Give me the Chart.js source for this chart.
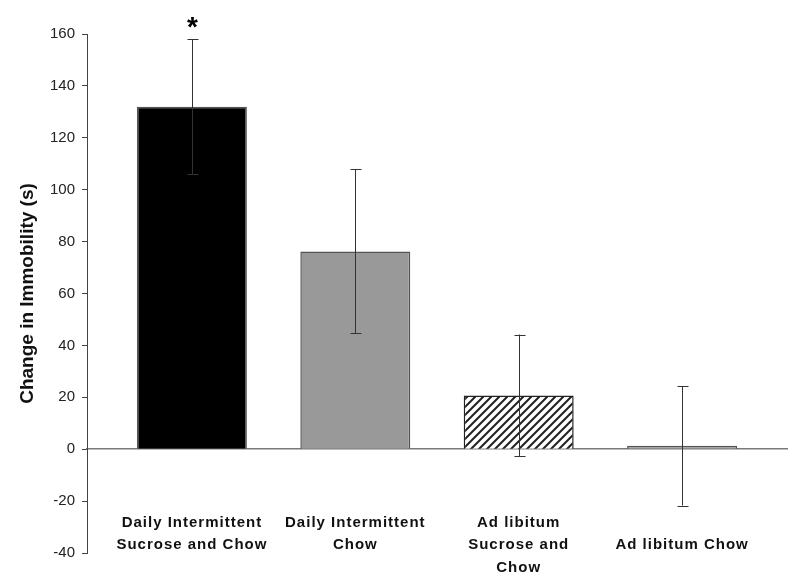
<!DOCTYPE html>
<html>
<head>
<meta charset="utf-8">
<script src="https://cdn.jsdelivr.net/npm/chart.js@4/dist/chart.umd.min.js"></script>
<style>
  html, body { margin: 0; padding: 0; background: #fff; }
  #wrap { width: 800px; height: 580px; }
</style>
</head>
<body>
<div id="wrap"><canvas id="immobilityChart"></canvas></div>
<script>
// values
const categories = [
    ['Daily Intermittent', 'Sucrose and Chow'],
    ['Daily Intermittent', 'Chow'],
    ['Ad libitum', 'Sucrose and', 'Chow'],
    ['', 'Ad libitum Chow']
]
const means = [132, 76.2, 20.7, 1.3]
const errors = [26, 31.6, 23.5, 23]
const marks = ['*', '', '', '']
const yMin = -40
const yMax = 160
const yStep = 20

// diagonal hatch for the third bar
function hatch() {
    let c = document.createElement('canvas')
    c.width = 8
    c.height = 8
    let g = c.getContext('2d')
    g.fillStyle = '#fff'
    g.fillRect(0, 0, 8, 8)
    g.strokeStyle = '#222'
    g.lineWidth = 2
    g.beginPath()
    g.moveTo(-2, 10); g.lineTo(10, -2)
    g.moveTo(-2, 2); g.lineTo(2, -2)
    g.moveTo(6, 10); g.lineTo(10, 6)
    g.stroke()
    return g.createPattern(c, 'repeat')
}

const errorBars = {
    id: 'errorBars',
    afterDatasetsDraw(chart) {
        let ctx = chart.ctx
        let y = chart.scales.y
        let bars = chart.getDatasetMeta(0).data
        ctx.save()
        ctx.strokeStyle = '#333'
        ctx.lineWidth = 1
        bars.forEach((bar, i) => {
            let top = y.getPixelForValue(means[i] + errors[i])
            let bot = y.getPixelForValue(means[i] - errors[i])
            let x = Math.round(bar.x) + 0.5
            ctx.beginPath()
            ctx.moveTo(x, top); ctx.lineTo(x, bot)
            ctx.moveTo(x - 5, Math.round(top) + 0.5); ctx.lineTo(x + 6, Math.round(top) + 0.5)
            ctx.moveTo(x - 5, Math.round(bot) + 0.5); ctx.lineTo(x + 6, Math.round(bot) + 0.5)
            ctx.stroke()
            if (marks[i]) {
                ctx.fillStyle = '#000'
                ctx.font = 'bold 28px "Liberation Sans", Arial, sans-serif'
                ctx.textAlign = 'center'
                ctx.textBaseline = 'alphabetic'
                ctx.fillText(marks[i], x, top - 3)
            }
        })
        ctx.restore()
    }
}

// the category labels in the figure are set a little loose
function xAfterFit(s) {
    s.paddingLeft = 0
    s.paddingRight = 0
    if (s._spaced) return
    s._spaced = true
    let orig = s.drawLabels.bind(s)
    s.drawLabels = (area) => {
        s.ctx.save()
        s.ctx.letterSpacing = '1px'
        orig(area)
        s.ctx.restore()
    }
}

let ctx = document.getElementById('immobilityChart').getContext('2d')
let immobilityChart = new Chart(ctx, {
    type: 'bar',
    data: {
        datasets: [{
            data: means.map((v, i) => ({ x: i + 1, y: v })),
            backgroundColor: ['#000000', '#999999', hatch(), '#999999'],
            borderColor: ['#555555', '#555555', '#222222', '#555555'],
            borderWidth: 1.5,
            categoryPercentage: 1,
            barPercentage: 0.673
        }]
    },
    options: {
        responsive: true,
        maintainAspectRatio: false,
        animation: false,
        layout: { padding: { left: 16, right: 13, top: 34, bottom: 27 } },
        plugins: {
            legend: { display: false },
            tooltip: { enabled: false }
        },
        scales: {
            x: {
                type: 'linear',
                position: { y: 0 },
                offset: false,
                min: 0.358,
                max: 4.642,
                afterBuildTicks: s => { s.ticks = categories.map((c, i) => ({ value: i + 1 })) },
                afterFit: xAfterFit,
                grid: { display: false, drawTicks: false },
                border: { display: true, color: '#7a7a7a', width: 1.5 },
                ticks: {
                    padding: 62,
                    color: '#111',
                    maxRotation: 0,
                    autoSkip: false,
                    font: { family: '"Liberation Sans", Arial, sans-serif', size: 15, weight: 'bold', lineHeight: 1.5 },
                    callback: (v) => categories[Math.round(v) - 1]
                }
            },
            y: {
                min: yMin,
                max: yMax,
                afterFit: s => { s.width = 71 },
                ticks: {
                    stepSize: yStep,
                    padding: 7,
                    color: '#222',
                    font: { family: '"Liberation Sans", Arial, sans-serif', size: 15 }
                },
                grid: { drawOnChartArea: false, drawTicks: true, tickLength: 5, color: '#444' },
                border: { color: '#444', width: 1 },
                title: {
                    display: true,
                    text: 'Change in Immobility (s)',
                    color: '#111',
                    padding: { top: 0, bottom: 0 },
                    font: { family: '"Liberation Sans", Arial, sans-serif', size: 19, weight: 'bold' }
                }
            }
        }
    },
    plugins: [errorBars]
})
</script>
</body>
</html>
